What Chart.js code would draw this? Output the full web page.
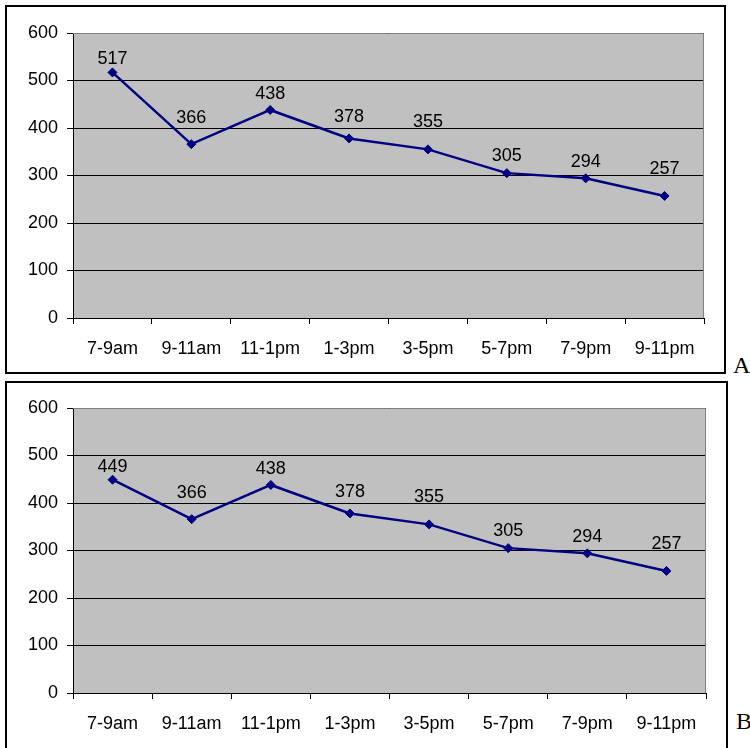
<!DOCTYPE html>
<html>
<head>
<meta charset="utf-8">
<script src="https://cdn.jsdelivr.net/npm/chart.js@4/dist/chart.umd.min.js"></script>
<style>
  html, body { margin: 0; padding: 0; background: #fff; overflow: hidden; }
  body { width: 750px; height: 748px; position: relative; }
  .box { position: absolute; box-sizing: border-box; border: 2px solid #000; background: #fff; }
  #boxA { left: 5px; top: 5px; width: 721px; height: 369px; }
  #boxB { left: 5px; top: 381px; width: 723px; height: 400px; }
  .box canvas { display: block; }
  .tag { position: absolute; font-family: "Liberation Serif", "Times New Roman", serif; font-size: 24px; line-height: 1; color: #000; }
  #tagA { left: 733px; top: 353px; }
  #tagB { left: 736px; top: 709px; }
</style>
</head>
<body>
<div class="box" id="boxA"><canvas id="chartA" width="717" height="365"></canvas></div>
<div class="box" id="boxB"><canvas id="chartB" width="719" height="364"></canvas></div>
<div class="tag" id="tagA">A</div>
<div class="tag" id="tagB">B</div>

<script>
// ===== Dados =====
const horarios = ["7-9am", "9-11am", "11-1pm", "1-3pm", "3-5pm", "5-7pm", "7-9pm", "9-11pm"];
const valoresA = [517, 366, 438, 378, 355, 305, 294, 257];
const valoresB = [449, 366, 438, 378, 355, 305, 294, 257];
const ticksY = [0, 100, 200, 300, 400, 500, 600];

const fonte = "Arial, 'Liberation Sans', sans-serif";

// Fundo cinza da área do gráfico + borda cinza (topo e direita)
const fundoPlot = {
  id: "fundoPlot",
  beforeDraw(chart) {
    const { ctx, chartArea: a } = chart;
    ctx.save();
    ctx.fillStyle = "#c0c0c0";
    ctx.fillRect(a.left, a.top, a.right - a.left, a.bottom - a.top);
    ctx.restore();
  },
  afterDraw(chart) {
    const { ctx, chartArea: a } = chart;
    ctx.save();
    ctx.strokeStyle = "#808080";
    ctx.lineWidth = 1;
    ctx.beginPath();
    ctx.moveTo(a.left, a.top + 0.5);
    ctx.lineTo(a.right - 0.5, a.top + 0.5);
    ctx.lineTo(a.right - 0.5, a.bottom);
    ctx.stroke();
    ctx.restore();
  }
};

// Rótulos de valor acima de cada ponto
const rotulos = {
  id: "rotulos",
  afterDatasetsDraw(chart, args, opts) {
    const { ctx } = chart;
    const meta = chart.getDatasetMeta(0);
    const dados = chart.data.datasets[0].data;
    ctx.save();
    ctx.font = "18px " + fonte;
    ctx.fillStyle = "#000";
    ctx.textAlign = "center";
    ctx.textBaseline = "middle";
    meta.data.forEach((pt, i) => {
      const dy = opts.desloc[i] ?? 20;
      ctx.fillText(String(dados[i]), pt.x, pt.y - dy);
    });
    ctx.restore();
  }
};

function criarGrafico(id, valores, topo) {
  const ctx = document.getElementById(id).getContext("2d");
  return new Chart(ctx, {
    type: "line",
    data: {
      labels: horarios,
      datasets: [{
        data: valores,
        borderColor: "#000080",
        backgroundColor: "#000080",
        borderWidth: 2.5,
        pointStyle: "rectRot",
        pointRadius: 4.5,
        pointBorderWidth: 1,
        tension: 0,
        fill: false
      }]
    },
    options: {
      responsive: false,
      animation: false,
      events: [],
      layout: { padding: { top: topo, right: 20, left: 0, bottom: 0 } },
      plugins: {
        legend: { display: false },
        tooltip: { enabled: false },
        rotulos: { desloc: [13, 26, 16, 21, 27, 17, 16, 27] }
      },
      scales: {
        x: {
          offset: true,
          grid: { offset: true, drawOnChartArea: false, drawTicks: true, tickLength: 6, color: "#000", lineWidth: 1 },
          border: { color: "#000", width: 1 },
          ticks: { color: "#000", font: { family: fonte, size: 18 }, padding: 14, maxRotation: 0, autoSkip: false },
          afterFit(scale) { scale.height = 54; }
        },
        y: {
          min: 0,
          max: 600,
          afterBuildTicks(scale) { scale.ticks = ticksY.map(v => ({ value: v })); },
          grid: { color: "#000", lineWidth: 1, tickLength: 6, drawTicks: true },
          border: { color: "#000", width: 1 },
          ticks: { color: "#000", font: { family: fonte, size: 18 }, padding: 9 },
          afterFit(scale) { scale.width = 66; }
        }
      }
    },
    plugins: [fundoPlot, rotulos]
  });
}

criarGrafico("chartA", valoresA, 26);
criarGrafico("chartB", valoresB, 25);
</script>
</body>
</html>
